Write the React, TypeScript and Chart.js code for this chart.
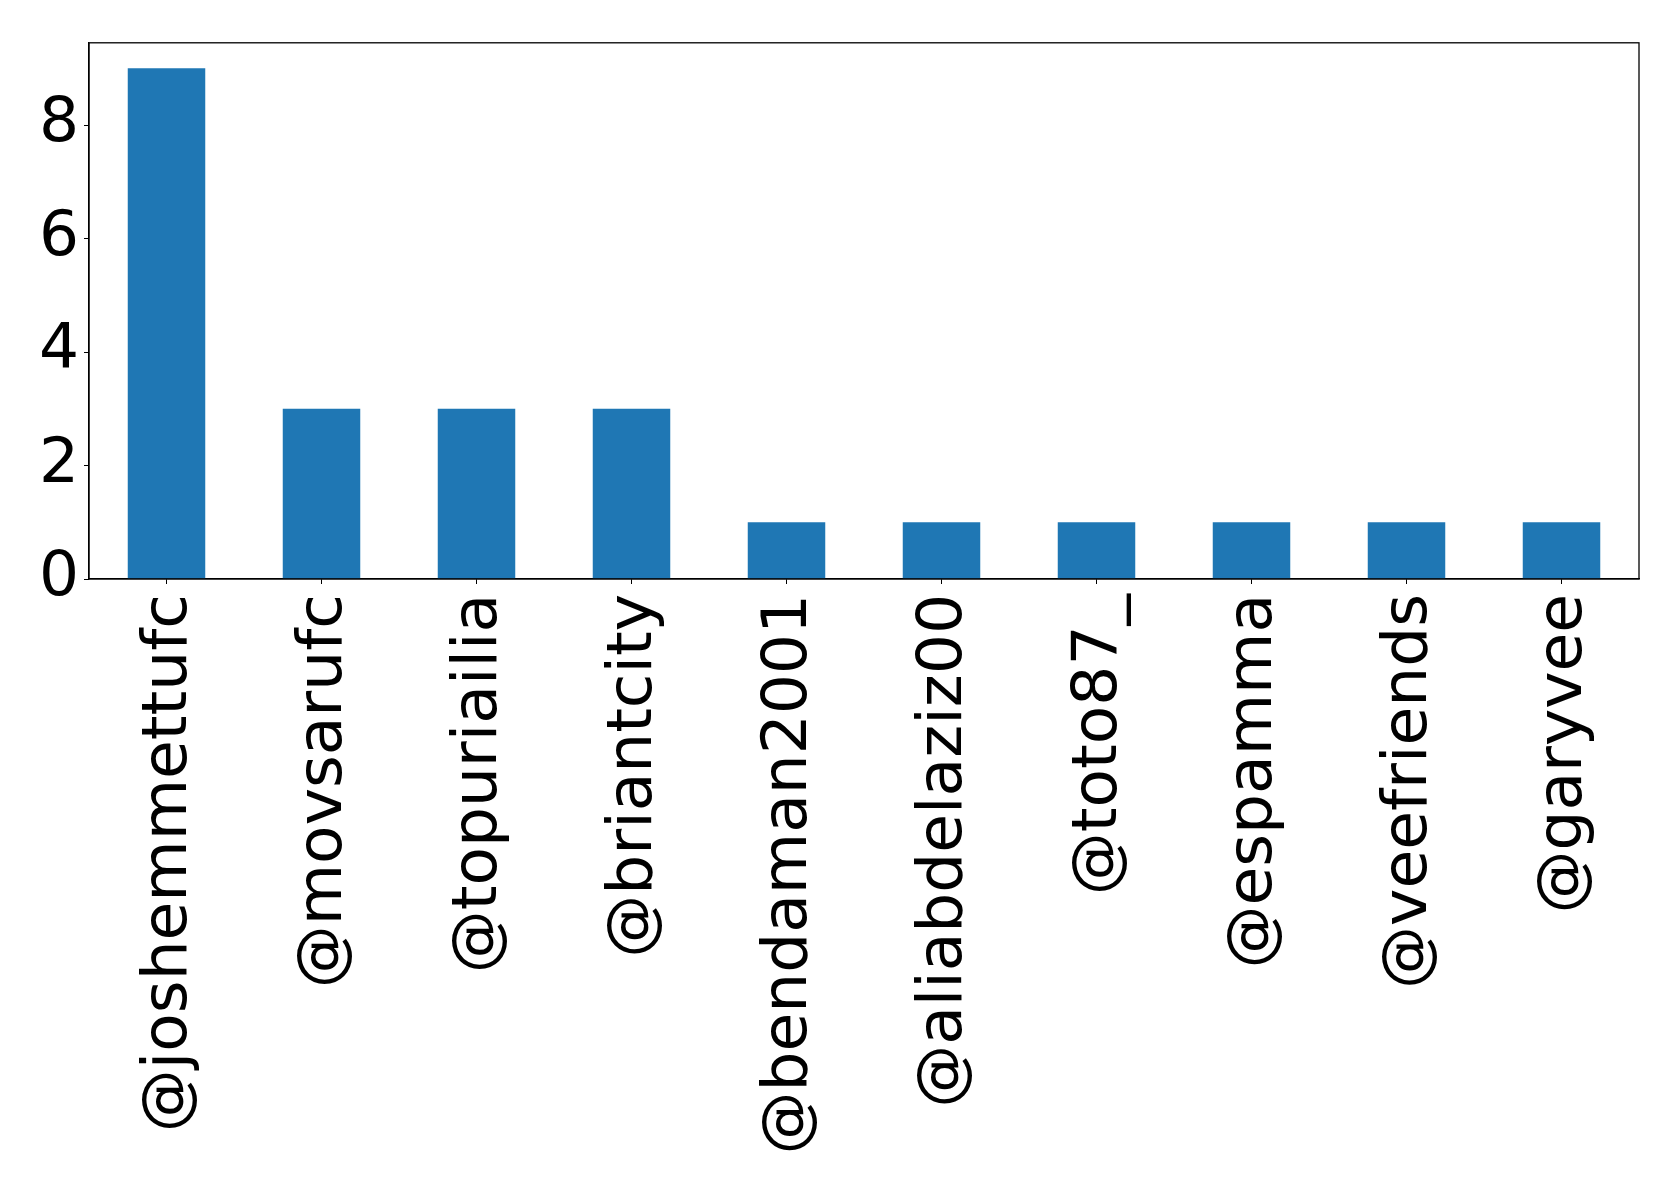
import React, { useEffect, useRef } from "react";
import { Chart, registerables } from "chart.js";

Chart.register(...registerables);

const categories = [
  "@joshemmettufc",
  "@movsarufc",
  "@topuriailia",
  "@briantcity",
  "@bendaman2001",
  "@aliabdelaziz00",
  "@toto87_",
  "@espamma",
  "@veefriends",
  "@garyvee",
];
const counts = [9, 3, 3, 3, 1, 1, 1, 1, 1, 1];
const yTicks = [0, 2, 4, 6, 8];

const W = 1679;
const H = 1184;
const FONT = { family: "'DejaVu Sans', sans-serif", size: 63 };

const framePlugin = {
  id: "frame",
  afterDraw(chart: any) {
    const { ctx, chartArea } = chart;
    ctx.save();
    ctx.strokeStyle = "#000";
    ctx.lineWidth = 1.3;
    ctx.strokeRect(chartArea.left, chartArea.top, chartArea.right - chartArea.left, chartArea.bottom - chartArea.top);
    ctx.restore();
  },
};

export default function App() {
  const ref = useRef<HTMLCanvasElement>(null);
  useEffect(() => {
    document.body.style.margin = "0";
    const chart = new Chart(ref.current!, {
      type: "bar",
      data: {
        labels: categories,
        datasets: [
          {
            data: counts,
            backgroundColor: "#1f77b4",
            categoryPercentage: 1,
            barPercentage: 0.5,
          },
        ],
      },
      plugins: [framePlugin],
      options: {
        animation: false,
        responsive: false,
        devicePixelRatio: 1,
        layout: { padding: { top: 40, right: 40, left: 0, bottom: 0 } },
        plugins: { legend: { display: false }, tooltip: { enabled: false } },
        scales: {
          x: {
            grid: { drawOnChartArea: false, drawTicks: true, tickLength: 5, color: "#000", offset: false },
            border: { display: true, color: "#000", width: 1.3 },
            ticks: {
              color: "#000",
              font: FONT,
              minRotation: 90,
              maxRotation: 90,
              autoSkip: false,
              padding: 10,
              labelOffset: 3,
            },
            afterFit: (s: any) => {
              s.height = H - 579;
            },
          },
          y: {
            min: 0,
            max: 9.45,
            grid: { drawOnChartArea: false, drawTicks: true, tickLength: 5, color: "#000" },
            border: { display: true, color: "#000", width: 1.3 },
            ticks: {
              color: "#000",
              font: FONT,
              padding: 5,
              includeBounds: false,
            },
            afterBuildTicks: (s: any) => {
              s.ticks = yTicks.map((v) => ({ value: v }));
            },
            afterFit: (s: any) => {
              s.width = 89;
            },
          },
        },
      },
    });
    return () => chart.destroy();
  }, []);
  return (
    <div style={{ position: "absolute", left: 0, top: 0, width: W, height: H, background: "#fff" }}>
      <canvas ref={ref} width={W} height={H} style={{ width: W, height: H }} />
    </div>
  );
}
